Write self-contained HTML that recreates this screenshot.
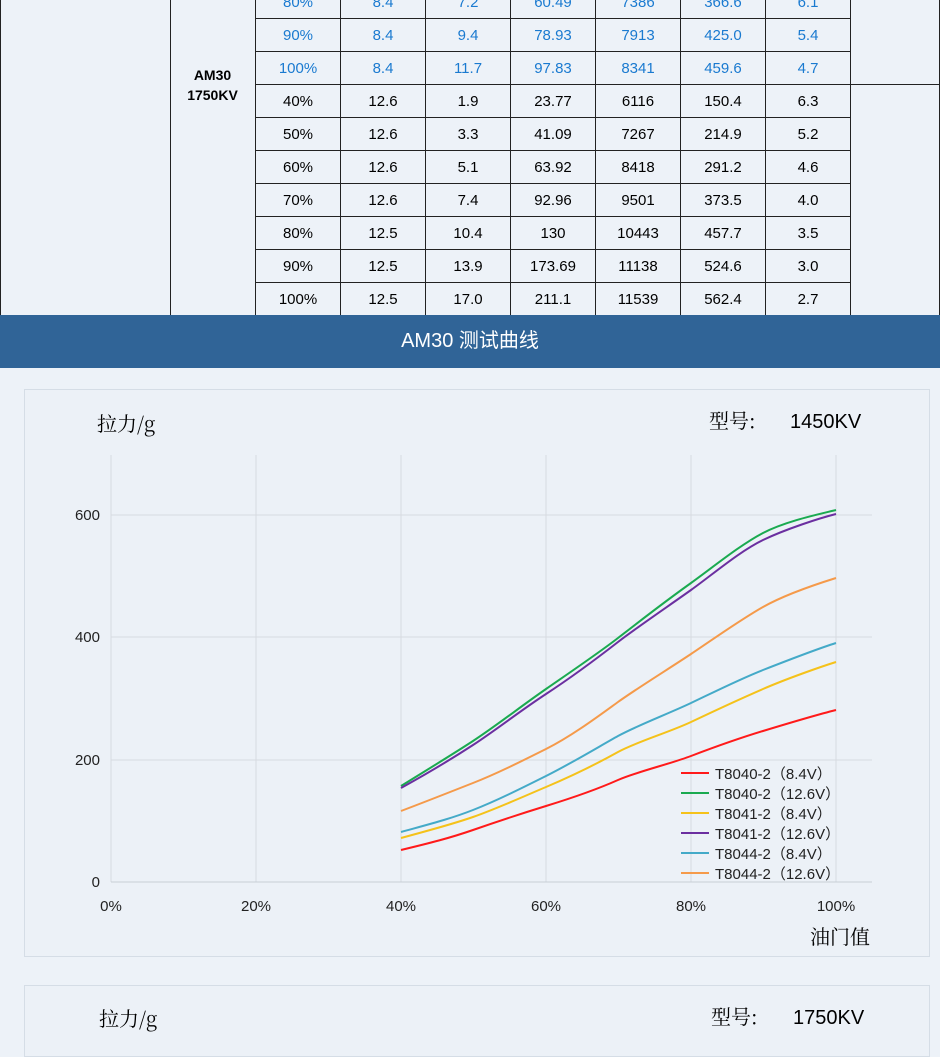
<!DOCTYPE html>
<html><head><meta charset="utf-8"><style>
body{margin:0;width:940px;height:1043px;overflow:hidden;background:#edf2f8;font-family:"Liberation Sans","Noto Sans CJK SC",sans-serif;position:relative}
table{position:absolute;left:0;top:-15px;border-collapse:collapse;width:939px;table-layout:fixed}
td{border:1.5px solid #222;height:32px;text-align:center;font-size:15px;padding:0}
.b td.d{color:#1a7ad0}
.m{position:absolute;left:170px;width:85px;top:65px;font-weight:bold;font-size:14px;line-height:20px;text-align:center}
.hdr{position:absolute;left:0;top:315px;width:940px;height:53px;background:#306497;color:#fff;font-size:20px;text-align:center;line-height:53px}
.panel{position:absolute;left:24px;width:904px;border:1px solid #d5dde6;background:#ecf1f7}
</style></head><body>
<table>
<colgroup><col style="width:170px"><col style="width:85px"><col style="width:85px"><col style="width:85px"><col style="width:85px"><col style="width:85px"><col style="width:85px"><col style="width:85px"><col style="width:85px"><col style="width:89px"></colgroup>
<tr class="b"><td rowspan="10"></td><td rowspan="10"></td><td class="d">80%</td><td class="d">8.4</td><td class="d">7.2</td><td class="d">60.49</td><td class="d">7386</td><td class="d">366.6</td><td class="d">6.1</td><td rowspan="3"></td></tr>
<tr class="b"><td class="d">90%</td><td class="d">8.4</td><td class="d">9.4</td><td class="d">78.93</td><td class="d">7913</td><td class="d">425.0</td><td class="d">5.4</td></tr>
<tr class="b"><td class="d">100%</td><td class="d">8.4</td><td class="d">11.7</td><td class="d">97.83</td><td class="d">8341</td><td class="d">459.6</td><td class="d">4.7</td></tr>
<tr><td>40%</td><td>12.6</td><td>1.9</td><td>23.77</td><td>6116</td><td>150.4</td><td>6.3</td><td rowspan="7"></td></tr>
<tr><td>50%</td><td>12.6</td><td>3.3</td><td>41.09</td><td>7267</td><td>214.9</td><td>5.2</td></tr>
<tr><td>60%</td><td>12.6</td><td>5.1</td><td>63.92</td><td>8418</td><td>291.2</td><td>4.6</td></tr>
<tr><td>70%</td><td>12.6</td><td>7.4</td><td>92.96</td><td>9501</td><td>373.5</td><td>4.0</td></tr>
<tr><td>80%</td><td>12.5</td><td>10.4</td><td>130</td><td>10443</td><td>457.7</td><td>3.5</td></tr>
<tr><td>90%</td><td>12.5</td><td>13.9</td><td>173.69</td><td>11138</td><td>524.6</td><td>3.0</td></tr>
<tr><td>100%</td><td>12.5</td><td>17.0</td><td>211.1</td><td>11539</td><td>562.4</td><td>2.7</td></tr>
</table>
<div class="m">AM30<br>1750KV</div>
<div class="hdr">AM30 测试曲线</div>
<div class="panel" style="top:389px;height:566px"></div>
<div class="panel" style="top:985px;height:70px"></div>
<svg width="940" height="1043" style="position:absolute;left:0;top:0" font-family="Liberation Sans, Noto Sans CJK SC, sans-serif">
<g stroke="#d6dbe1" stroke-width="1">
<line x1="111" y1="455" x2="111" y2="882"/><line x1="256" y1="455" x2="256" y2="882"/><line x1="401" y1="455" x2="401" y2="882"/><line x1="546" y1="455" x2="546" y2="882"/><line x1="691" y1="455" x2="691" y2="882"/><line x1="836" y1="455" x2="836" y2="882"/>
<line x1="111" y1="515" x2="872" y2="515"/><line x1="111" y1="637" x2="872" y2="637"/><line x1="111" y1="760" x2="872" y2="760"/>
</g>
<line x1="111" y1="882" x2="872" y2="882" stroke="#c8ced6"/>
<g font-size="15" fill="#222" text-anchor="end"><text x="100" y="520">600</text><text x="100" y="642">400</text><text x="100" y="765">200</text><text x="100" y="887">0</text></g>
<g font-size="15" fill="#222" text-anchor="middle"><text x="111" y="911">0%</text><text x="256" y="911">20%</text><text x="401" y="911">40%</text><text x="546" y="911">60%</text><text x="691" y="911">80%</text><text x="836" y="911">100%</text></g>
<text x="97" y="431" font-size="20" font-family="Noto Serif CJK SC, serif">拉力/g</text>
<text x="709" y="428" font-size="20" font-family="Noto Serif CJK SC, serif">型号:</text><text x="790" y="428" font-size="20">1450KV</text>
<text x="810" y="944" font-size="20" font-family="Noto Serif CJK SC, serif">油门值</text>
<text x="99" y="1026" font-size="20" font-family="Noto Serif CJK SC, serif">拉力/g</text>
<text x="711" y="1024" font-size="20" font-family="Noto Serif CJK SC, serif">型号:</text><text x="793" y="1024" font-size="20">1750KV</text>
<g fill="none" stroke-width="2">
<path stroke="#ff1a1a" d="M401,850 C430,843 450,838 473,830 S520,814 546,806 S600,788 618,780 S670,764 691,756 S740,738 763,731 S820,714 836,710"/>
<path stroke="#1aaa50" d="M401,786 C430,768 450,756 473,741 S520,707 546,689 S600,652 618,638 S670,598 691,583 S740,545 763,533 S820,514 836,510"/>
<path stroke="#6b2fa0" d="M401,788 C430,772 450,760 473,745 S520,711 546,694 S600,656 618,642 S670,605 691,590 S740,551 763,540 S820,518 836,514"/>
<path stroke="#f59a4a" d="M401,811 C430,800 450,792 473,783 S520,762 546,749 S600,715 618,702 S670,668 691,654 S740,620 763,607 S820,583 836,578"/>
<path stroke="#44aac8" d="M401,832 C430,824 450,819 473,810 S520,789 546,776 S600,746 618,736 S670,713 691,703 S740,679 763,670 S820,648 836,643"/>
<path stroke="#f5c21a" d="M401,838 C430,830 450,825 473,817 S520,798 546,787 S600,762 618,752 S670,732 691,722 S740,699 763,689 S820,667 836,662"/>
</g>
<g stroke-width="2">
<line x1="681" y1="773" x2="709" y2="773" stroke="#ff1a1a"/><line x1="681" y1="793" x2="709" y2="793" stroke="#1aaa50"/><line x1="681" y1="813" x2="709" y2="813" stroke="#f5c21a"/><line x1="681" y1="833" x2="709" y2="833" stroke="#6b2fa0"/><line x1="681" y1="853" x2="709" y2="853" stroke="#44aac8"/><line x1="681" y1="873" x2="709" y2="873" stroke="#f59a4a"/>
</g>
<g font-size="15" fill="#222"><text x="715" y="779">T8040-2（8.4V）</text><text x="715" y="799">T8040-2（12.6V）</text><text x="715" y="819">T8041-2（8.4V）</text><text x="715" y="839">T8041-2（12.6V）</text><text x="715" y="859">T8044-2（8.4V）</text><text x="715" y="879">T8044-2（12.6V）</text></g>
</svg>
</body></html>
